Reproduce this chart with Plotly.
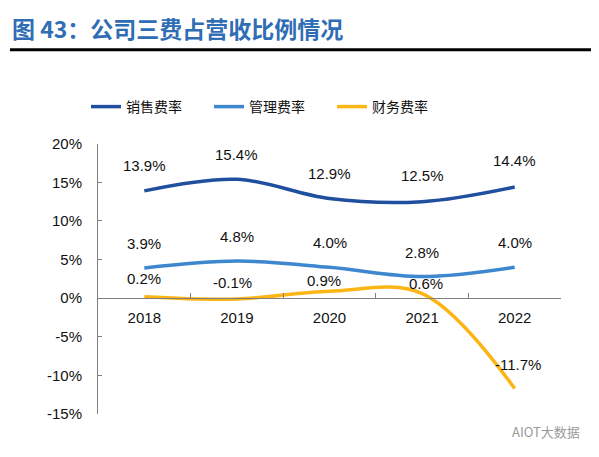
import plotly.graph_objects as go

# 数据
years = ['2018', '2019', '2020', '2021', '2022']
sales_rate = [13.9, 15.4, 12.9, 12.5, 14.4]     # 销售费率
admin_rate = [3.9, 4.8, 4.0, 2.8, 4.0]          # 管理费率
finance_rate = [0.2, -0.1, 0.9, 0.6, -11.7]     # 财务费率
y_ticks = [-15, -10, -5, 0, 5, 10, 15, 20]

# 画布尺寸与绘图区（像素，页面自带 8px 边距）
W, H = 591, 449
L, R, T, B = 90, 38, 134, 43
pw, ph = W - L - R, H - T - B

series = [
    ('销售费率', sales_rate, '#1f4f9e', [25, 25, 25, 26, 26], [0, 0, 0, 0, 0]),
    ('管理费率', admin_rate, '#3d87cf', [25, 25, 25, 24, 25], [0, 0, 0, 0, 0]),
    ('财务费率', finance_rate, '#fdb515', [18, 16, 11, 10, 24], [0, -4, -6, 4, 3]),
]

fig = go.Figure()
annotations = []
for name, vals, color, dy, dx in series:
    fig.add_trace(go.Scatter(
        x=years, y=vals, name=name, mode='lines',
        line=dict(color=color, width=3.5, shape='spline', smoothing=1.0),
        hoverinfo='skip'
    ))
    # 数据标签（类别轴上用序号定位）
    for i, v in enumerate(vals):
        annotations.append(dict(
            x=i, y=v, xref='x', yref='y', text=f'{v:.1f}%',
            showarrow=False, yshift=dy[i], xshift=dx[i],
            font=dict(family='Liberation Sans, Arial', size=15, color='#111111')
        ))

# 标题
annotations.append(dict(
    xref='paper', yref='paper', x=(2 - L) / pw, y=(H - B - 18) / ph,
    xanchor='left', yanchor='middle', showarrow=False,
    text='<b>图 43：公司三费占营收比例情况</b>',
    font=dict(family='Noto Sans CJK SC', size=23, color='#2f6db5')
))
# 水印
annotations.append(dict(
    xref='paper', yref='paper', x=(574 - L) / pw, y=(H - B - 424) / ph,
    xanchor='right', yanchor='middle', showarrow=False,
    text='AIOT大数据',
    font=dict(family='Noto Sans CJK SC', size=13, color='#9a9a9a')
))

fig.update_layout(
    width=W, height=H,
    margin=dict(l=L, r=R, t=T, b=B),
    paper_bgcolor='white', plot_bgcolor='white',
    annotations=annotations,
    shapes=[dict(
        type='line', xref='paper', yref='paper',
        x0=(2 - L) / pw, x1=(W + 10 - L) / pw,
        y0=(H - B - 39.5) / ph, y1=(H - B - 39.5) / ph,
        line=dict(color='black', width=3)
    )],
    showlegend=True,
    legend=dict(
        orientation='h', xref='container', yref='container',
        x=78 / W, y=1 - 99 / H, xanchor='left', yanchor='middle',
        entrywidth=78, bgcolor='rgba(0,0,0,0)',
        font=dict(family='Noto Sans CJK SC', size=14, color='#111111')
    ),
    xaxis=dict(
        type='category', range=[-0.5, 4.5], anchor='free', position=15 / 35,
        showline=True, linecolor='#7f7f7f', linewidth=1,
        ticks='inside', ticklen=5, tickcolor='#7f7f7f', tickson='boundaries',
        showgrid=False, zeroline=False,
        tickfont=dict(family='Liberation Sans, Arial', size=15, color='#111111'),
        ticklabelstandoff=6
    ),
    yaxis=dict(
        range=[-15, 20], tickvals=y_ticks,
        ticktext=[f'{v}%' for v in y_ticks],
        showline=True, linecolor='#7f7f7f', linewidth=1,
        ticks='inside', ticklen=4, tickcolor='#7f7f7f',
        showgrid=False, zeroline=False,
        tickfont=dict(family='Liberation Sans, Arial', size=15, color='#111111'),
        ticklabelstandoff=12
    ),
)

fig.write_html('out.html')
